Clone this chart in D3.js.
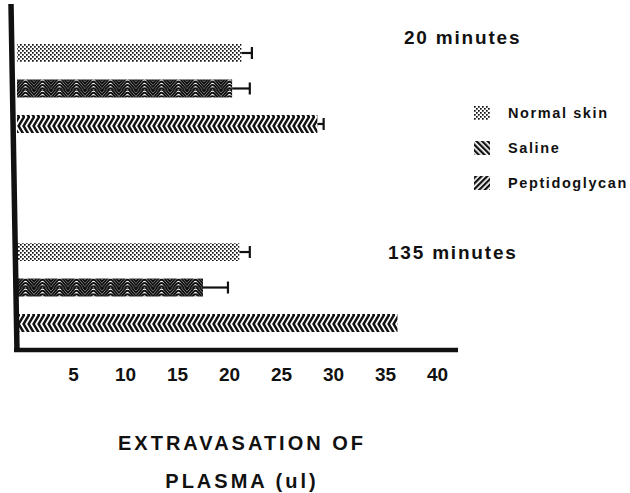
<!DOCTYPE html>
<html><head><meta charset="utf-8">
<script src="https://cdn.jsdelivr.net/npm/d3@7/dist/d3.min.js"></script>
<style>body{margin:0;background:#fff}svg{display:block}text{font-family:"Liberation Sans",Arial,sans-serif;font-weight:bold;fill:#111}</style>
</head><body><svg id="c" width="630" height="493"></svg>
<script>
const groups = ["20 minutes", "135 minutes"];
const series = ["Normal skin", "Saline", "Peptidoglycan"];
const values20 = [21.2, 20.3, 28.5];
const errors20 = [1.0, 1.7, 0.6];
const values135 = [21.0, 17.5, 36.2];
const errors135 = [1.0, 2.4, 0];
const tickValues = [5, 10, 15, 20, 25, 30, 35, 40];
const axisTitle = ["EXTRAVASATION OF", "PLASMA (ul)"];

const svg = d3.select("#c");
const defs = svg.append("defs");

// patterns
const pDot = defs.append("pattern").attr("id","pat0").attr("patternUnits","userSpaceOnUse").attr("width",4).attr("height",4);
pDot.append("rect").attr("width",4).attr("height",4).attr("fill","#fff");
pDot.append("rect").attr("x",0).attr("y",0).attr("width",1.7).attr("height",1.7).attr("fill","#111");
pDot.append("rect").attr("x",2).attr("y",2).attr("width",1.7).attr("height",1.7).attr("fill","#111");

const pWave = defs.append("pattern").attr("id","pat1").attr("patternUnits","userSpaceOnUse").attr("width",17).attr("height",18);
pWave.append("rect").attr("width",17).attr("height",18).attr("fill","#fff");
for (let a = -12; a <= 32; a += 3.4) {
  pWave.append("path").attr("d", `M-1,${a+1} L6.5,${a-8} Q8.5,${a-10} 10.5,${a-8} L18,${a+1}`)
    .attr("fill","none").attr("stroke","#111").attr("stroke-width",2);
}

const pChev = defs.append("pattern").attr("id","pat2").attr("patternUnits","userSpaceOnUse").attr("width",5).attr("height",18);
pChev.append("rect").attr("width",5).attr("height",18).attr("fill","#fff");
pChev.append("path").attr("d","M-2,-1 L4,9 L-2,19 M3,-1 L9,9 L3,19").attr("fill","none").attr("stroke","#111").attr("stroke-width",2.5);

const pSal = defs.append("pattern").attr("id","leg1").attr("patternUnits","userSpaceOnUse").attr("width",4).attr("height",4).attr("patternTransform","rotate(-45)");
pSal.append("rect").attr("width",4).attr("height",4).attr("fill","#fff");
pSal.append("rect").attr("width",2.3).attr("height",4).attr("fill","#111");
const pPep = defs.append("pattern").attr("id","leg2").attr("patternUnits","userSpaceOnUse").attr("width",4).attr("height",4).attr("patternTransform","rotate(45)");
pPep.append("rect").attr("width",4).attr("height",4).attr("fill","#fff");
pPep.append("rect").attr("width",2.3).attr("height",4).attr("fill","#111");

const barFill = ["url(#pat0)","url(#pat1)","url(#pat2)"];
const legFill = ["url(#pat0)","url(#leg1)","url(#leg2)"];

const x = d3.scaleLinear().domain([0, 40]).range([21, 437]);
const yGroup = d3.scaleBand().domain(groups).range([44, 332]).paddingInner(0.553).paddingOuter(0);
const ySeries = d3.scaleBand().domain(series).range([0, yGroup.bandwidth()]).paddingInner(0.493).paddingOuter(0);

const data = [];
[values20, values135].forEach((vals, gi) => {
  const errs = gi === 0 ? errors20 : errors135;
  vals.forEach((v, si) => data.push({g: groups[gi], s: series[si], si, v, e: errs[si]}));
});

const bars = svg.append("g");
bars.selectAll("rect").data(data).join("rect")
  .attr("x", x(0) - 4)
  .attr("y", d => yGroup(d.g) + ySeries(d.s))
  .attr("width", d => x(d.v) - x(0) + 4)
  .attr("height", ySeries.bandwidth())
  .attr("fill", d => barFill[d.si]);

const eb = svg.append("g").attr("stroke","#111").attr("stroke-width",2.2);
data.filter(d => d.e > 0).forEach(d => {
  const cy = yGroup(d.g) + ySeries(d.s) + ySeries.bandwidth()/2;
  eb.append("line").attr("x1", x(d.v)).attr("x2", x(d.v + d.e)).attr("y1", cy).attr("y2", cy);
  eb.append("line").attr("x1", x(d.v + d.e)).attr("x2", x(d.v + d.e)).attr("y1", cy - 6).attr("y2", cy + 6);
});

// axes
svg.append("line").attr("x1",11).attr("y1",4).attr("x2",17).attr("y2",352).attr("stroke","#111").attr("stroke-width",5.5);
svg.append("line").attr("x1",14).attr("y1",350).attr("x2",458).attr("y2",350).attr("stroke","#111").attr("stroke-width",4.5);

const ax = svg.append("g").attr("transform","translate(0,352)")
  .call(d3.axisBottom(x).tickValues(tickValues).tickSize(0).tickPadding(11).tickFormat(d3.format("d")));
ax.select(".domain").remove();
ax.selectAll("text").style("font-size","19px").style("font-family","'Liberation Sans',Arial,sans-serif").style("font-weight","bold").attr("fill","#111").attr("dy","0.95em");

// group labels
svg.append("text").attr("x",404).attr("y",44).style("font-size","19px").style("letter-spacing","1.8px").text(groups[0]);
svg.append("text").attr("x",388).attr("y",259).style("font-size","19px").style("letter-spacing","1.8px").text(groups[1]);

// legend
const leg = svg.append("g");
series.forEach((s, i) => {
  const cy = 113 + i * 35;
  leg.append("rect").attr("x",474).attr("y",cy-7).attr("width",16).attr("height",14).attr("fill",legFill[i]);
  leg.append("text").attr("x",508).attr("y",cy+5).style("font-size","14.5px").style("letter-spacing","1.6px").text(s);
});

// axis title
axisTitle.forEach((t, i) => {
  svg.append("text").attr("x",242).attr("y",450 + i*38).attr("text-anchor","middle")
    .style("font-size","20px").style("font-weight","bold").style("letter-spacing","3px").text(t);
});
</script></body></html>
